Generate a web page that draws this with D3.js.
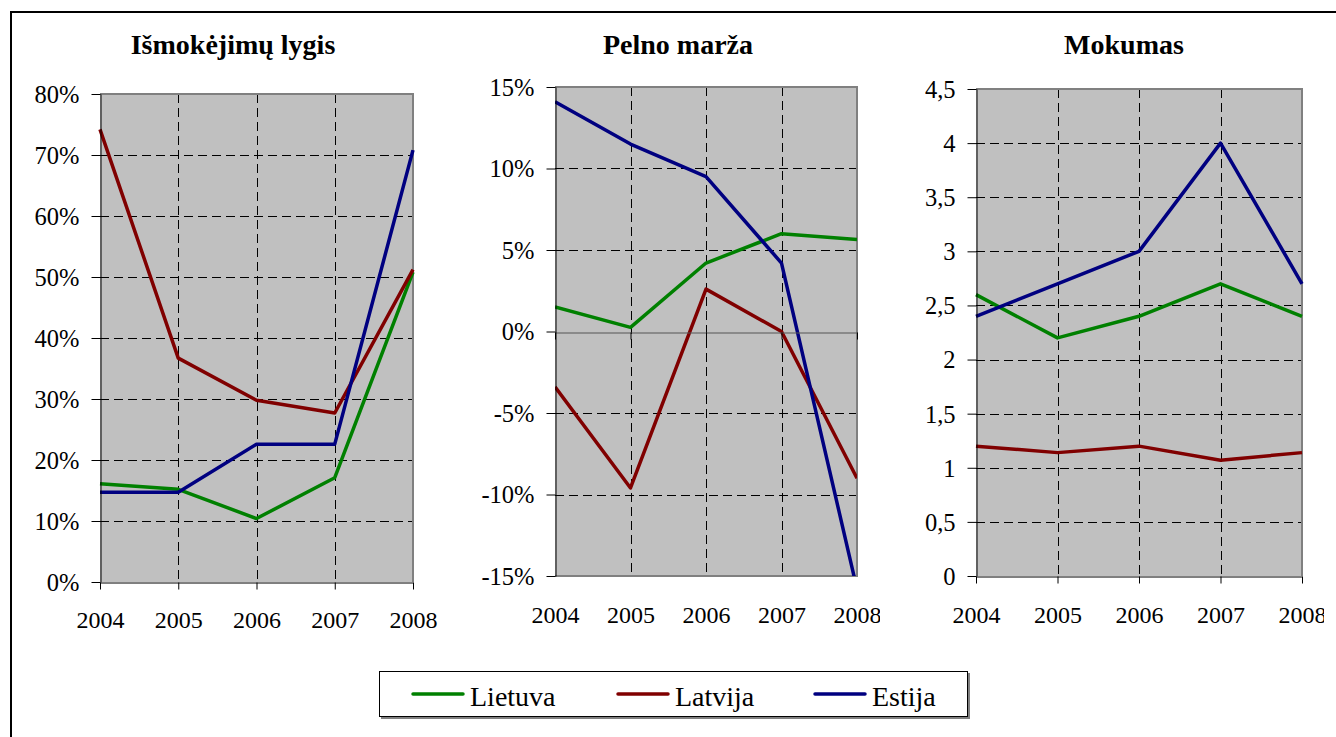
<!DOCTYPE html>
<html lang="lt">
<head>
<meta charset="utf-8">
<style>
body { margin: 0; background: #fff; }
</style>
</head>
<body>
<script src="https://cdn.jsdelivr.net/npm/d3@7"></script>
<svg id="chart" width="1336" height="737"></svg>
<script>
// data
var years = ["2004", "2005", "2006", "2007", "2008"];
var countries = ["Lietuva", "Latvija", "Estija"];
var colors = ["#008000", "#800000", "#000080"];

// Išmokėjimų lygis, %
var payoutLT = [16.1, 15.2, 10.4, 17.1, 50.8];
var payoutLV = [74.2, 36.7, 29.8, 27.7, 51.2];
var payoutEE = [14.7, 14.7, 22.6, 22.6, 70.8];

// Pelno marža, %
var marginLT = [1.5, 0.25, 4.2, 6.0, 5.65];
var marginLV = [-3.4, -9.6, 2.6, 0.0, -9.0];
var marginEE = [14.1, 11.5, 9.5, 4.2, -15.8];

// Mokumas
var solvLT = [2.6, 2.2, 2.4, 2.7, 2.4];
var solvLV = [1.2, 1.14, 1.2, 1.07, 1.14];
var solvEE = [2.4, 2.7, 3.0, 4.0, 2.7];

var payoutTicks = [0, 10, 20, 30, 40, 50, 60, 70, 80];
var marginTicks = [-15, -10, -5, 0, 5, 10, 15];
var solvTicks = [0, 0.5, 1, 1.5, 2, 2.5, 3, 3.5, 4, 4.5];

var FONT = "'Liberation Serif', 'DejaVu Serif', 'Times New Roman', serif";

var svg = d3.select("#chart")
    .style("font-family", FONT);

// outer frame (runs off the right and bottom edges)
svg.append("rect")
    .attr("x", 11).attr("y", 12)
    .attr("width", 1340).attr("height", 740)
    .attr("fill", "none").attr("stroke", "#000").attr("stroke-width", 2);

var pct = function(d) { return d + "%"; };
var comma = function(d) { return String(d).replace(".", ","); };

var panels = [
  { title: "Išmokėjimų lygis", titleX: 233, x0: 100, x1: 413, top: 94, bottom: 582,
    domain: [0, 80], ticks: payoutTicks, fmt: pct, series: [payoutLT, payoutLV, payoutEE],
    clipRight: 450, labelY: 628 },
  { title: "Pelno marža", titleX: 678, x0: 555, x1: 857, top: 87, bottom: 576,
    domain: [-15, 15], ticks: marginTicks, fmt: pct, series: [marginLT, marginLV, marginEE],
    clipRight: 880, labelY: 623 },
  { title: "Mokumas", titleX: 1124, x0: 976, x1: 1302, top: 89, bottom: 576,
    domain: [0, 4.5], ticks: solvTicks, fmt: comma, series: [solvLT, solvLV, solvEE],
    clipRight: 1324, labelY: 623 }
];

panels.forEach(function(p, i) {
  var x = d3.scalePoint().domain(years).range([p.x0, p.x1]);
  var y = d3.scaleLinear().domain(p.domain).range([p.bottom, p.top]);

  var clipId = "panel" + i;
  svg.append("clipPath").attr("id", clipId)
    .append("rect").attr("x", p.x0 - 100).attr("y", 0)
    .attr("width", p.clipRight - p.x0 + 100).attr("height", 737);
  var plotClip = "plot" + i;
  svg.append("clipPath").attr("id", plotClip)
    .append("rect").attr("x", p.x0).attr("y", p.top)
    .attr("width", p.x1 - p.x0).attr("height", p.bottom - p.top);

  var g = svg.append("g").attr("clip-path", "url(#" + clipId + ")");

  svg.append("text")
    .attr("x", p.titleX).attr("y", 54)
    .attr("text-anchor", "middle")
    .style("font-family", FONT)
    .style("font-weight", "bold")
    .style("font-size", "28px")
    .text(p.title);

  g.append("rect")
    .attr("x", p.x0).attr("y", p.top)
    .attr("width", p.x1 - p.x0).attr("height", p.bottom - p.top)
    .attr("fill", "#c0c0c0");

  // gridlines
  g.selectAll(".hgrid")
    .data(p.ticks.filter(function(t) { return t !== 0 && t !== p.domain[0] && t !== p.domain[1]; }))
    .enter().append("line")
    .attr("x1", p.x0).attr("x2", p.x1)
    .attr("y1", function(d) { return Math.round(y(d)) + 0.5; })
    .attr("y2", function(d) { return Math.round(y(d)) + 0.5; })
    .attr("stroke", "#000").attr("stroke-dasharray", "9,5");

  g.selectAll(".vgrid")
    .data(years.slice(1, -1))
    .enter().append("line")
    .attr("x1", function(d) { return Math.round(x(d)) + 0.5; })
    .attr("x2", function(d) { return Math.round(x(d)) + 0.5; })
    .attr("y1", p.top).attr("y2", p.bottom)
    .attr("stroke", "#000").attr("stroke-dasharray", "9,5");

  // plot border: top, right (and bottom when the zero line is elsewhere)
  var border = "M" + p.x0 + "," + p.top + "H" + p.x1 + "V" + p.bottom;
  if (p.domain[0] < 0) border += "H" + p.x0;
  g.append("path").attr("d", border)
    .attr("fill", "none").attr("stroke", "#808080").attr("stroke-width", 2);

  // lines
  var line = d3.line()
    .x(function(d, j) { return x(years[j]); })
    .y(function(d) { return y(d); });

  var lines = g.append("g").attr("clip-path", p.domain[0] < 0 ? "url(#" + plotClip + ")" : null);
  p.series.forEach(function(s, k) {
    lines.append("path")
      .attr("d", line(s))
      .attr("fill", "none")
      .attr("stroke", colors[k])
      .attr("stroke-width", 3.5)
      .attr("stroke-linejoin", "round");
  });

  // category axis at zero, ticks only
  var xAxis = g.append("g")
    .attr("transform", "translate(0," + (Math.round(y(0)) + 0.5) + ")")
    .call(d3.axisBottom(x).tickSize(7).tickSizeOuter(0).tickFormat(""));
  xAxis.select(".domain").attr("stroke", p.domain[0] < 0 ? "#555" : "#000");

  // category labels at the bottom of the plot
  g.append("g")
    .attr("transform", "translate(0," + p.labelY + ")")
    .call(d3.axisBottom(x).tickSize(0).tickPadding(0))
    .call(function(a) {
      a.attr("font-family", null).attr("font-size", null);
      a.select(".domain").remove();
      a.selectAll("text").attr("dy", 0).attr("y", 0)
        .style("font-family", FONT).style("font-size", "24px").attr("fill", "#000");
    });

  // value axis
  var yAxis = svg.append("g")
    .attr("transform", "translate(" + (p.x0 + 0.5) + ",0)")
    .call(d3.axisLeft(y).tickValues(p.ticks).tickFormat(p.fmt).tickSize(9).tickSizeOuter(0).tickPadding(12));
  yAxis.attr("font-family", null).attr("font-size", null);
  yAxis.select(".domain").attr("stroke", "#000");
  yAxis.selectAll("text").attr("dy", "0.34em")
    .style("font-family", FONT).style("font-size", "24.5px").attr("fill", "#000");
});

// legend
var lg = svg.append("g");
lg.append("rect").attr("x", 381).attr("y", 673).attr("width", 589).attr("height", 46).attr("fill", "#808080");
lg.append("rect").attr("x", 379.5).attr("y", 671.5).attr("width", 588).attr("height", 45)
  .attr("fill", "#fff").attr("stroke", "#000");

var legendX = [413, 618, 815];
countries.forEach(function(c, k) {
  lg.append("line")
    .attr("x1", legendX[k]).attr("x2", legendX[k] + 50)
    .attr("y1", 694).attr("y2", 694)
    .attr("stroke", colors[k]).attr("stroke-width", 3.5).attr("stroke-linecap", "round");
  lg.append("text")
    .attr("x", legendX[k] + 57).attr("y", 706)
    .style("font-family", FONT).style("font-size", "28px")
    .text(c);
});
</script>
</body>
</html>
